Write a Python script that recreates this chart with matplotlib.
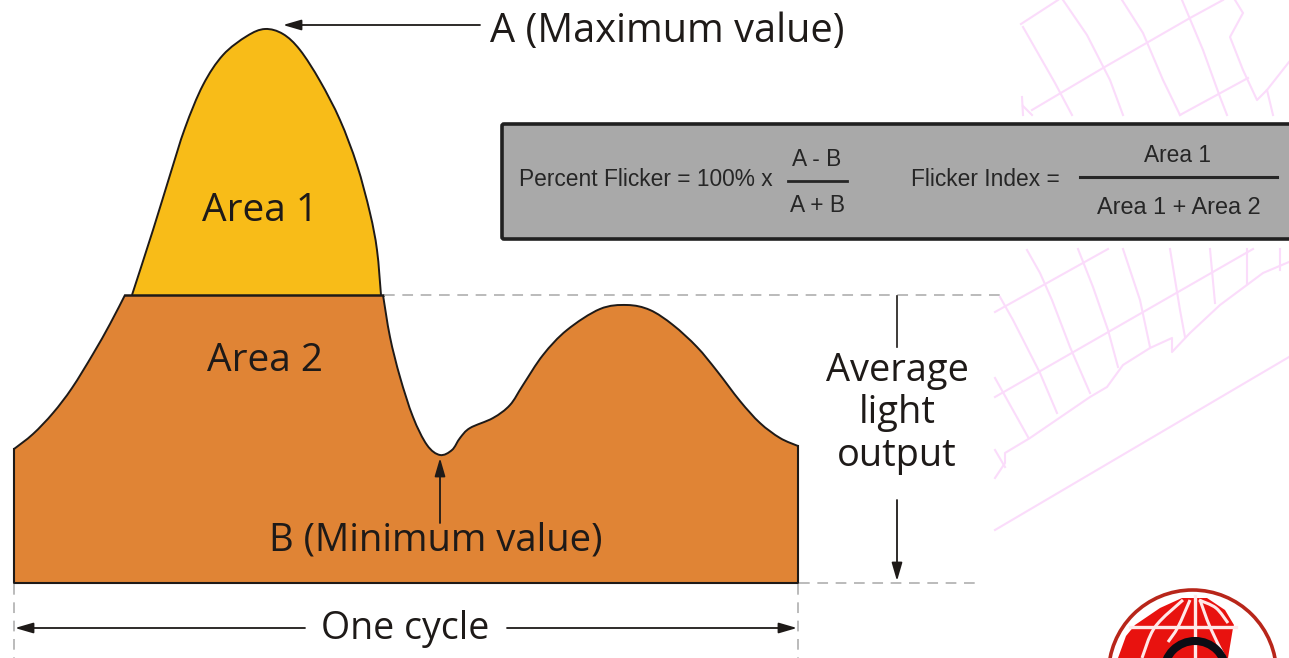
import numpy as np
import matplotlib
matplotlib.use('Agg')
import matplotlib.pyplot as plt
from matplotlib.path import Path
from matplotlib.patches import PathPatch, FancyBboxPatch, Circle, Polygon

# outline of the light curve (image pixels)
peak_x = [132, 153, 170, 185, 203, 223, 247, 265, 283, 300, 320, 340, 357, 370, 377, 381]
peak_y = [295, 230, 175, 128, 85, 55, 36, 29, 34, 50, 81, 120, 165, 213, 250, 295]

left_x = [14, 33, 53, 72, 93, 110, 125]
left_y = [449, 434, 413, 388, 354, 324, 295]

right_x = [383, 390, 400, 413, 427, 440, 452, 460, 470, 493, 510, 523, 543, 567, 600, 627, 650, 673, 697, 717, 740, 760, 780, 798]
right_y = [295, 337, 377, 417, 445, 455, 450, 438, 428, 418, 405, 385, 355, 330, 309, 305, 310, 325, 347, 371, 401, 423, 438, 446]

baseline_y = 583

# faint map behind the chart
map_top = [
    [(1021, 24), (1058, 0)],
    [(1023, 27), (1055, 83), (1072, 115)],
    [(1063, 0), (1087, 35), (1110, 80), (1123, 115)],
    [(1122, 0), (1143, 33), (1163, 80), (1180, 115)],
    [(1182, 0), (1203, 50), (1220, 97), (1227, 115)],
    [(1032, 110), (1103, 68), (1190, 18), (1223, 0)],
    [(1180, 115), (1248, 78)],
    [(1235, 0), (1243, 13), (1230, 37), (1243, 70), (1257, 100), (1267, 90), (1289, 62)],
    [(1267, 90), (1273, 115)],
    [(1022, 97), (1023, 115)],
    [(1023, 106), (1032, 115)],
]
map_low = [
    [(995, 312), (1108, 249)],
    [(995, 397), (1253, 249)],
    [(995, 530), (1289, 357)],
    [(995, 478), (1005, 463), (1005, 453), (1030, 438), (1090, 397), (1107, 387), (1123, 365),
     (1150, 348), (1172, 338), (1172, 352), (1190, 333), (1220, 305), (1263, 273), (1289, 262)],
    [(1027, 250), (1040, 273), (1052, 300), (1070, 347), (1090, 393)],
    [(1078, 249), (1093, 287), (1108, 330), (1118, 367)],
    [(1123, 249), (1140, 300), (1150, 347)],
    [(1170, 249), (1180, 310), (1185, 337)],
    [(1210, 249), (1215, 303)],
    [(1247, 249), (1247, 283)],
    [(1280, 249), (1280, 270)],
    [(1000, 297), (1013, 320), (1040, 373), (1057, 413)],
    [(995, 378), (1028, 437)],
    [(995, 450), (1005, 467)],
]

# red part of the logo and its white grid lines
logo_red = [(1118, 658), (1126, 636), (1135, 625), (1160, 608), (1182, 598), (1207, 598),
            (1225, 610), (1234, 625), (1233, 628), (1228, 658)]
logo_meridians = [([1142, 1155, 1183], [658, 627, 600]),
                  ([1168, 1178, 1190], [642, 627, 600]),
                  ([1200, 1210, 1225], [600, 627, 658]),
                  ([1199, 1216, 1228], [600, 608, 623])]


def smooth(xs, ys):
    # catmull-rom through the points, as bezier segments
    p = np.column_stack([xs, ys]).astype(float)
    verts = [p[0]]
    for i in range(len(p) - 1):
        p0 = p[max(i - 1, 0)]
        p3 = p[min(i + 2, len(p) - 1)]
        verts += [p[i] + (p[i + 1] - p0) / 6, p[i + 1] - (p3 - p[i]) / 6, p[i + 1]]
    return verts


def curve(xs, ys):
    v = smooth(xs, ys)
    return Path(v, [Path.MOVETO] + [Path.CURVE4] * (len(v) - 1))


def arrow(x0, y0, x1, y1):
    ax.annotate('', xy=(x1, y1), xytext=(x0, y0),
                arrowprops=dict(arrowstyle='-|>,head_length=1.1,head_width=0.32', color=ink,
                                lw=1.3, shrinkA=0, shrinkB=0), zorder=6)


ink = '#1e1a18'
plt.rcParams['font.family'] = ['Open Sans', 'DejaVu Sans']

fig = plt.figure(figsize=(12.89, 6.58), dpi=100)
ax = fig.add_axes([0, 0, 1, 1])
ax.set_xlim(0, 1289)
ax.set_ylim(658, 0)
ax.axis('off')

for line in map_top + map_low:
    pts = np.array(line)
    ax.plot(pts[:, 0], pts[:, 1], color='#fbdcfb', lw=1.5, zorder=1)

# orange area under the average line
v = smooth(left_x, left_y)
v2 = smooth(right_x, right_y)
verts = [(14, baseline_y)] + v + v2 + [(798, baseline_y), (14, baseline_y)]
codes = [Path.MOVETO, Path.LINETO] + [Path.CURVE4] * (len(v) - 1) + [Path.LINETO] + \
        [Path.CURVE4] * (len(v2) - 1) + [Path.LINETO, Path.CLOSEPOLY]
ax.add_patch(PathPatch(Path(verts, codes), fc='#e08435', ec='none', zorder=2))

# yellow area above it
v3 = smooth(peak_x, peak_y)
ax.add_patch(PathPatch(Path(v3 + [v3[0]], [Path.MOVETO] + [Path.CURVE4] * (len(v3) - 1) + [Path.CLOSEPOLY]),
                       fc='#f8bc18', ec='none', zorder=2))

for xs, ys in [(left_x, left_y), (peak_x, peak_y), (right_x, right_y)]:
    ax.add_patch(PathPatch(curve(xs, ys), fc='none', ec=ink, lw=1.4, zorder=3))
ax.plot([14, 14, 798, 798], [449, baseline_y, baseline_y, 446], color=ink, lw=1.5, zorder=3)
ax.plot([125, 383], [295, 295], color=ink, lw=1.8, zorder=3)

# dashed guides
dash = dict(color='#a8a8a8', lw=1.1, ls=(0, (7, 5)), zorder=3)
ax.plot([384, 1003], [295, 295], **dash)
ax.plot([799, 980], [baseline_y, baseline_y], **dash)
ax.plot([14, 14], [584, 658], **dash)
ax.plot([798, 798], [584, 658], **dash)

# arrows
arrow(480, 25, 283, 25)
arrow(440, 523, 440, 458)
arrow(305, 628, 15, 628)
arrow(507, 628, 797, 628)
arrow(897, 500, 897, 581)
ax.plot([897, 897], [296, 347], color=ink, lw=1.2, zorder=5)

label = dict(color=ink, ha='center', va='center', zorder=7)
ax.text(667, 32, 'A (Maximum value)', fontsize=28.6, **label)
ax.text(260, 211, 'Area 1', fontsize=28, **label)
ax.text(265, 361, 'Area 2', fontsize=28, **label)
ax.text(436, 540, 'B (Minimum value)', fontsize=27.5, **label)
ax.text(405, 629, 'One cycle', fontsize=27, **label)
ax.text(897, 371, 'Average', fontsize=27.4, **label)
ax.text(897, 413, 'light', fontsize=27.4, **label)
ax.text(897, 456, 'output', fontsize=27.4, **label)

# formula box
ax.add_patch(FancyBboxPatch((502, 124), 800, 115, boxstyle='round,pad=0,rounding_size=2',
                            fc='#a9a9a9', ec='#202020', lw=2.6, zorder=4))
f = dict(family=['Liberation Sans', 'DejaVu Sans'], color='#262626', va='center', zorder=5)
ax.text(519, 180, 'Percent Flicker = 100% x', ha='left', fontsize=16.4, **f)
ax.text(817, 159, 'A - B', ha='center', fontsize=16.4, **f)
ax.text(817, 206, 'A + B', ha='center', fontsize=16.4, **f)
ax.text(911, 180, 'Flicker Index =', ha='left', fontsize=16.4, **f)
ax.text(1178, 156, 'Area 1', ha='center', fontsize=16.4, **f)
ax.text(1179, 208, 'Area 1 + Area 2', ha='center', fontsize=16.9, **f)
ax.plot([788, 847], [181, 181], color='#262626', lw=2, zorder=5)
ax.plot([1080, 1277], [177, 177], color='#262626', lw=2.2, zorder=5)

# logo cut off at the bottom edge
ax.add_patch(Circle((1192.5, 674), 84, fc='none', ec='#b8261a', lw=2.6, zorder=2))
ax.add_patch(Polygon(logo_red, closed=True, fc='#e8120f', ec='none', zorder=2))
ax.plot([1130, 1236], [627, 627], color='#ffe8e8', lw=2.4, zorder=2)
ax.plot([1195, 1195], [596, 658], color='#ffe8e8', lw=2.4, zorder=2)
for xs, ys in logo_meridians:
    ax.add_patch(PathPatch(curve(xs, ys), fc='none', ec='#ffe8e8', lw=2.2, zorder=2))
ax.add_patch(Circle((1195, 672), 31, fc='none', ec='#0c0c14', lw=5.8, zorder=3))

fig.savefig('out.png', dpi=100)
